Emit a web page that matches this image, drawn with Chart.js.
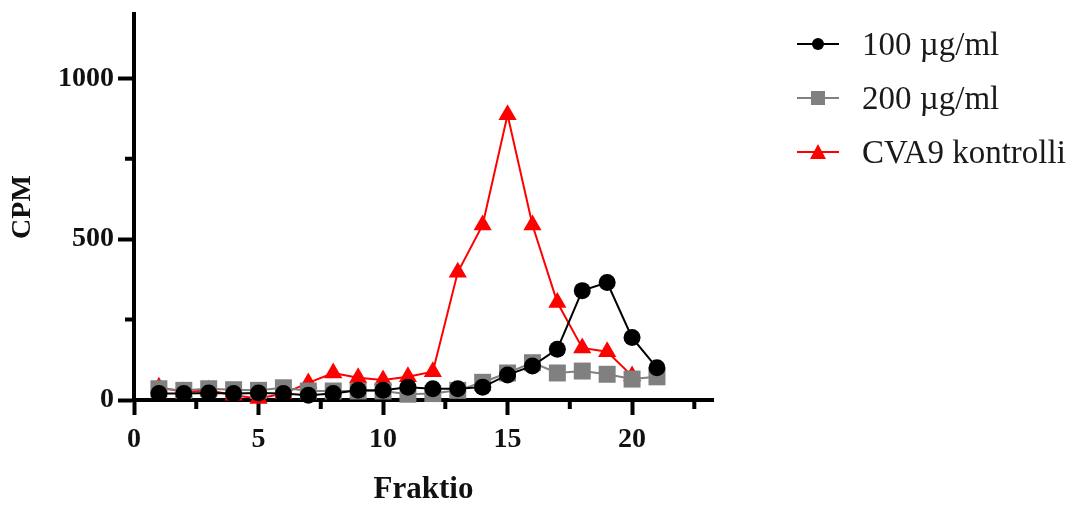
<!DOCTYPE html>
<html>
<head>
<meta charset="utf-8">
<script src="https://cdn.jsdelivr.net/npm/chart.js@4/dist/chart.umd.min.js"></script>
<style>
  html, body { margin: 0; padding: 0; background: #fff; }
  #wrap { position: relative; width: 1090px; height: 505px; }
  #legend { position: absolute; left: 796px; top: 0; font-family: 'Liberation Serif', serif; font-size: 33px; color: #1a1a1a; }
  .row { position: absolute; left: 0; height: 40px; display: flex; align-items: center; white-space: nowrap; }
  .row svg { margin-right: 22px; }
</style>
</head>
<body>
<div id="wrap">
  <canvas id="chart" width="1090" height="505"></canvas>
  <div id="legend"></div>
</div>
<script>
// Fraktio numbers
const fractions = [1, 2, 3, 4, 5, 6, 7, 8, 9, 10, 11, 12, 13, 14, 15, 16, 17, 18, 19, 20, 21];
// CPM per fraction
const cpm100 = [20, 20, 22, 20, 22, 20, 15, 20, 30, 30, 40, 35, 35, 40, 78, 106, 158, 340, 365, 194, 100];
const cpm200 = [35, 30, 35, 32, 30, 38, 28, 28, 28, 28, 18, 20, 30, 55, 84, 116, 84, 90, 80, 65, 72];
const cpmCva9 = [40, 25, 30, 15, 5, 20, 53, 84, 69, 62, 72, 88, 397, 544, 887, 544, 303, 162, 150, 75, null];

const xTicks = [0, 2.5, 5, 7.5, 10, 12.5, 15, 17.5, 20, 22.5];
const yTicks = [0, 250, 500, 750, 1000];

const seriesNames = ['100 µg/ml', '200 µg/ml', 'CVA9 kontrolli'];
const seriesColors = ['#000000', '#808080', '#ff0000'];

Chart.defaults.font.family = "'Liberation Serif', serif";
Chart.defaults.color = '#111';

const isMajorX = v => v % 5 === 0;
const isMajorY = v => v % 500 === 0;

// short minor ticks, drawn from the scales
const minorTicks = {
  id: 'minorTicks',
  afterDraw(chart) {
    const { ctx, scales: { x, y } } = chart;
    ctx.save();
    ctx.strokeStyle = '#000';
    ctx.lineWidth = 4;
    ctx.beginPath();
    xTicks.filter(v => !isMajorX(v)).forEach(v => {
      const px = x.getPixelForValue(v);
      ctx.moveTo(px, x.top);
      ctx.lineTo(px, x.top + 9);
    });
    yTicks.filter(v => !isMajorY(v)).forEach(v => {
      const py = y.getPixelForValue(v);
      ctx.moveTo(y.right, py);
      ctx.lineTo(y.right - 9, py);
    });
    ctx.stroke();
    ctx.restore();
  }
};

function makeSet(i, data, style, radius) {
  return {
    label: seriesNames[i],
    data: fractions.map((f, k) => ({ x: f, y: data[k] })),
    borderColor: seriesColors[i],
    backgroundColor: seriesColors[i],
    borderWidth: 2,
    pointStyle: style,
    pointRadius: radius,
    pointBorderWidth: 0,
    pointBackgroundColor: seriesColors[i],
    tension: 0,
    clip: false,
    spanGaps: false
  };
}

new Chart(document.getElementById('chart'), {
  type: 'line',
  data: {
    datasets: [
      makeSet(0, cpm100, 'circle', 8.5),
      makeSet(1, cpm200, 'rect', 12),
      makeSet(2, cpmCva9, 'triangle', 10.5)
    ]
  },
  options: {
    responsive: false,
    animation: false,
    layout: { padding: { top: 14, right: 377, left: 0, bottom: 0 } },
    plugins: { legend: { display: false }, tooltip: { enabled: false } },
    scales: {
      x: {
        type: 'linear',
        min: 0,
        max: 23.25,
        afterBuildTicks: s => { s.ticks = xTicks.map(v => ({ value: v })); },
        afterFit: s => { s.height = 105; s.paddingLeft = 0; s.paddingRight = 0; },
        border: { display: true, color: '#000', width: 4 },
        grid: {
          drawOnChartArea: false,
          drawTicks: true,
          tickLength: 15,
          tickWidth: 4,
          tickColor: c => (isMajorX(c.tick.value) ? '#000' : 'rgba(0,0,0,0)')
        },
        ticks: {
          autoSkip: false,
          maxRotation: 0,
          padding: 8,
          font: { size: 28, weight: 'bold' },
          callback: v => (isMajorX(v) ? String(v) : '')
        },
        title: {
          display: true,
          text: 'Fraktio',
          font: { size: 31, weight: 'bold', lineHeight: 1 },
          padding: { top: 0, bottom: 0 }
        }
      },
      y: {
        min: 0,
        max: 1200,
        afterBuildTicks: s => { s.ticks = yTicks.map(v => ({ value: v })); },
        afterFit: s => { s.width = 134; s.paddingTop = 0; s.paddingBottom = 0; },
        border: { display: true, color: '#000', width: 4 },
        grid: {
          drawOnChartArea: false,
          drawTicks: true,
          tickLength: 16,
          tickWidth: 4,
          tickColor: c => (isMajorY(c.tick.value) ? '#000' : 'rgba(0,0,0,0)')
        },
        ticks: {
          padding: 4,
          font: { size: 28, weight: 'bold' },
          callback: v => (isMajorY(v) ? String(v) : '')
        },
        title: {
          display: true,
          text: 'CPM',
          font: { size: 28, weight: 'bold' },
          padding: { top: 6, bottom: 0 }
        }
      }
    }
  },
  plugins: [minorTicks]
});

// legend
const legendRows = [44, 98, 152];
const icons = [
  '<circle cx="22" cy="20" r="6" fill="#000"/>',
  '<rect x="15" y="13" width="14" height="14" fill="#808080"/>',
  '<polygon points="22,12 30,27 14,27" fill="#ff0000"/>'
];
const legendEl = document.getElementById('legend');
seriesNames.forEach((name, i) => {
  const row = document.createElement('div');
  row.className = 'row';
  row.style.top = (legendRows[i] - 20) + 'px';
  row.innerHTML =
    '<svg width="44" height="40"><line x1="1" y1="20" x2="43" y2="20" stroke="' +
    seriesColors[i] + '" stroke-width="2"/>' + icons[i] + '</svg><span>' + name + '</span>';
  legendEl.appendChild(row);
});
</script>
</body>
</html>
